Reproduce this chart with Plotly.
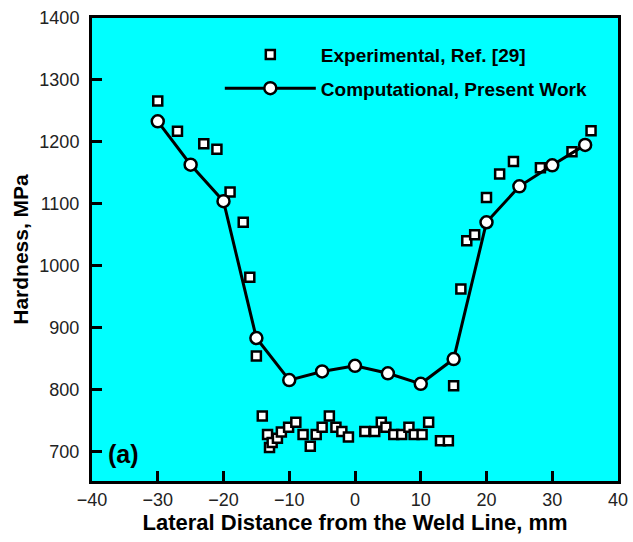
import plotly.graph_objects as go

# Computational, Present Work
comp_x = [-30, -25, -20, -15, -10, -5, 0, 5, 10, 15, 20, 25, 30, 35]
comp_y = [1233, 1163, 1104, 883, 815, 829, 838, 826, 809, 849, 1070, 1128, 1162, 1195]

# Experimental, Ref. [29]
exp_x = [-30, -27, -23, -21, -19, -17, -16, -15,
         -14.1, -13.3, -13, -12.6, -11.8, -11.2, -10.1, -9, -7.9, -6.8, -5.9, -5, -3.9,
         -2.9, -2, -1, 1.5, 3, 4, 4.7, 5.9, 7.1, 8.2, 9, 10.2, 11.2, 13, 14.2,
         15, 16.1, 17, 18.2, 20, 22, 24.1, 28.2, 33, 35.9]
exp_y = [1266, 1217, 1197, 1188, 1119, 1070, 981, 854,
         757, 727, 706, 714, 721, 731, 739, 747, 727, 708, 727, 739, 757,
         739, 732, 723, 732, 732, 747, 739, 727, 727, 739, 727, 727, 747, 717, 717,
         806, 962, 1040, 1050, 1110, 1148, 1168, 1158, 1184, 1218]

x_ticks = [-40, -30, -20, -10, 0, 10, 20, 30, 40]
y_ticks = [700, 800, 900, 1000, 1100, 1200, 1300, 1400]

FONT = "Arial, Liberation Sans, sans-serif"

fig = go.Figure()
fig.add_trace(go.Scatter(
    x=exp_x, y=exp_y, mode="markers", name="Experimental, Ref. [29]",
    legendgroup="a",
    marker=dict(symbol="square", size=9, color="white",
                line=dict(color="black", width=2.5)),
))
fig.add_trace(go.Scatter(
    x=comp_x, y=comp_y, mode="lines+markers", name="Computational, Present Work",
    legendgroup="b",
    line=dict(color="black", width=3),
    marker=dict(symbol="circle", size=12, color="white",
                line=dict(color="black", width=2.5)),
))

fig.add_annotation(x=-37.8, y=695, xref="x", yref="y", text="<b>(a)</b>",
                   showarrow=False, xanchor="left", yanchor="middle",
                   font=dict(family=FONT, size=25, color="black"))

fig.update_layout(
    width=633, height=542,
    margin=dict(l=92, r=5, t=18, b=61),
    paper_bgcolor="white", plot_bgcolor="#00FFFF",
    font=dict(family=FONT, color="black"),
    showlegend=True,
    legend=dict(x=0.243, y=0.962, xanchor="left", yanchor="top",
                bgcolor="rgba(0,0,0,0)", itemwidth=91, tracegroupgap=6,
                font=dict(family=FONT, size=19, color="black", weight="bold")),
    xaxis=dict(range=[-40, 40], tickvals=x_ticks, ticks="inside", ticklen=10,
               tickwidth=2.5, tickcolor="black", showgrid=False, zeroline=False,
               showline=True, linewidth=3, linecolor="black", mirror=True,
               ticklabeloverflow="allow",
               tickfont=dict(family=FONT, size=18, color="#222"),
               title=dict(text="<b>Lateral Distance from the Weld Line, mm</b>",
                          font=dict(family=FONT, size=22, color="black"), standoff=5)),
    yaxis=dict(range=[652, 1400], tickvals=y_ticks, ticks="inside", ticklen=10,
               tickwidth=2.5, tickcolor="black", showgrid=False, zeroline=False,
               showline=True, linewidth=3, linecolor="black", mirror=True,
               ticklabelstandoff=6, ticklabeloverflow="allow",
               tickfont=dict(family=FONT, size=18, color="#222"),
               title=dict(text="<b>Hardness, MPa</b>",
                          font=dict(family=FONT, size=21, color="black"), standoff=6)),
)

fig.write_html("out.html")
